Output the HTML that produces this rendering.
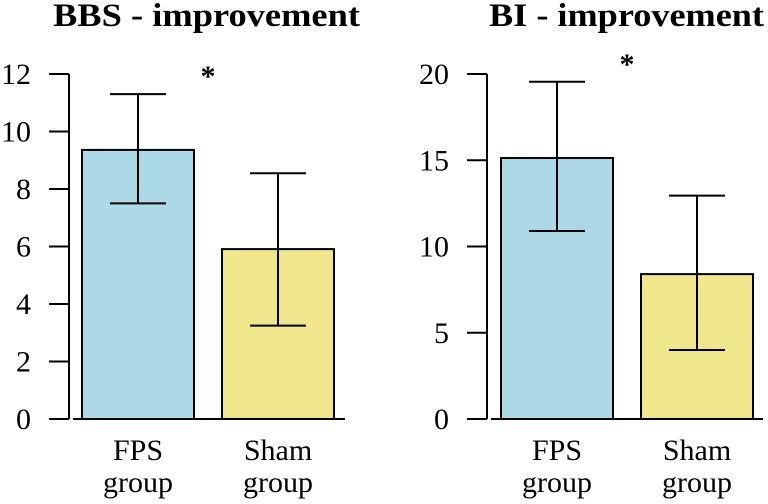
<!DOCTYPE html>
<html><head><meta charset="utf-8"><style>
html,body{margin:0;padding:0;background:#fff;}
svg{display:block;font-family:"Times New Roman","Liberation Serif",Tinos,"DejaVu Serif",serif;}
svg text{font-family:"Times New Roman","Liberation Serif",Tinos,"DejaVu Serif",serif !important;}
</style></head><body>
<svg id="chart" width="768" height="504" viewBox="0 0 768 504" xmlns="http://www.w3.org/2000/svg"></svg>
<script>
const categories = ["FPS", "Sham"];
const bbsMeans = [9.36, 5.91];
const bbsLower = [7.5, 3.25];
const bbsUpper = [11.3, 8.55];
const bbsTicks = [0, 2, 4, 6, 8, 10, 12];
const biMeans = [15.13, 8.4];
const biLower = [10.9, 4.0];
const biUpper = [19.55, 12.95];
const biTicks = [0, 5, 10, 15, 20];
const colors = ["#add8e6", "#f0e68c"];

const NS = "http://www.w3.org/2000/svg";
const svg = document.getElementById("chart");
function mk(tag, attrs, parent) {
  const e = document.createElementNS(NS, tag);
  for (const k in attrs) e.setAttribute(k, attrs[k]);
  (parent || svg).appendChild(e);
  return e;
}

function panel(cfg) {
  const g = mk("g", {});
  
  
  const y0 = 419, yTop = 74;
  const max = cfg.ticks[cfg.ticks.length - 1];
  const yScale = v => y0 - (v / max) * (y0 - yTop);
  const xScale = i => cfg.barX0 + i * 140;
  const bw = 112;

  const t = mk("text", {x: cfg.titleX, y: 26, "font-size": 33, "font-weight": "bold", textLength: cfg.titleW, lengthAdjust: "spacingAndGlyphs"}, g);
  t.textContent = cfg.title;
  
  

  const ax = mk("line", {x1: cfg.axisX, x2: cfg.axisX, y1: yTop, y2: y0, stroke: "#000", "stroke-width": 2}, g);
  
  
  cfg.ticks.forEach(v => {
    const y = yScale(v);
    const tk = mk("line", {x1: cfg.axisX - 20, x2: cfg.axisX, y1: y, y2: y, stroke: "#000", "stroke-width": 2}, g);
    
    
    const lb = mk("text", {x: cfg.axisX - 38, y: y + 10, "font-size": 30, "text-anchor": "end"}, g);
    lb.textContent = v;
    
    
  });

  cfg.means.forEach((m, i) => {
    const x = xScale(i);
    const r = mk("rect", {x: x, y: yScale(m), width: bw, height: y0 - yScale(m), fill: colors[i], stroke: "#000", "stroke-width": 2}, g);
    
    
    const cx = x + bw / 2;
    const eg = mk("g", {stroke: "#000", "stroke-width": 2}, g);
    
    
    mk("line", {x1: cx, x2: cx, y1: yScale(cfg.upper[i]), y2: yScale(cfg.lower[i])}, eg);
    mk("line", {x1: cx - 28, x2: cx + 28, y1: yScale(cfg.upper[i]), y2: yScale(cfg.upper[i])}, eg);
    mk("line", {x1: cx - 28, x2: cx + 28, y1: yScale(cfg.lower[i]), y2: yScale(cfg.lower[i])}, eg);
    const l1 = mk("text", {x: cx, y: 460, "font-size": 30, "text-anchor": "middle"}, g);
    l1.textContent = categories[i];
    
    
    const l2 = mk("text", {x: cx, y: 492, "font-size": 30, "text-anchor": "middle"}, g);
    l2.textContent = "group";
    
    
  });

  const base = mk("line", {x1: cfg.axisX + 4, x2: cfg.axisX + 276, y1: y0, y2: y0, stroke: "#000", "stroke-width": 2}, g);
  
  

  const s = mk("text", {x: cfg.starX, y: cfg.starY, "font-size": 30, "font-weight": "bold", "text-anchor": "middle"}, g);
  s.textContent = "*";
  
  
}

panel({name: "bbs-panel", title: "BBS - improvement", titleX: 53, titleW: 307, axisX: 69, barX0: 82,
  ticks: bbsTicks, means: bbsMeans, lower: bbsLower, upper: bbsUpper, starX: 208, starY: 86});
panel({name: "bi-panel", title: "BI - improvement", titleX: 489, titleW: 275, axisX: 487, barX0: 501,
  ticks: biTicks, means: biMeans, lower: biLower, upper: biUpper, starX: 627, starY: 74});
</script>
</body></html>
